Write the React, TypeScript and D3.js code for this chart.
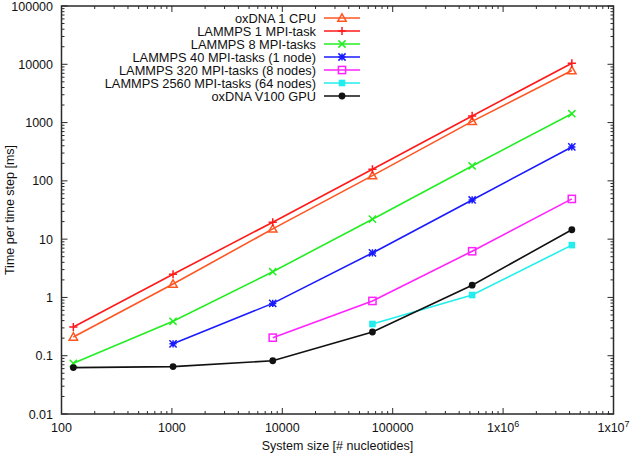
import React from 'react';
import * as d3 from 'd3';

const sizes = [128, 1024, 8192, 65536, 524288, 4194304];
const oxdnaCpu = [0.21, 1.7, 15, 123, 1050, 7800];
const lammps1 = [0.31, 2.5, 19.5, 158, 1300, 10400];
const lammps8 = [0.074, 0.39, 2.76, 22, 180, 1420];
const lammps40 = [null, 0.16, 0.79, 5.8, 47, 382];
const lammps320 = [null, null, 0.204, 0.87, 6.2, 49];
const lammps2560 = [null, null, null, 0.35, 1.1, 7.9];
const oxdnaGpu = [0.0625, 0.065, 0.082, 0.255, 1.62, 14.5];

const seriesNames = [
  'oxDNA 1 CPU',
  'LAMMPS 1 MPI-task',
  'LAMMPS 8 MPI-tasks',
  'LAMMPS 40 MPI-tasks (1 node)',
  'LAMMPS 320 MPI-tasks (8 nodes)',
  'LAMMPS 2560 MPI-tasks (64 nodes)',
  'oxDNA V100 GPU',
];
const seriesValues = [oxdnaCpu, lammps1, lammps8, lammps40, lammps320, lammps2560, oxdnaGpu];
const seriesColors = ['#ff5522', '#ff1a1a', '#22ee22', '#1a1aff', '#ff22ff', '#22eeee', '#111111'];
const seriesMarkers = ['triangle', 'plus', 'cross', 'star', 'squareOpen', 'squareFilled', 'circle'];

const xTicks = [100, 1000, 10000, 100000, 1e6, 1e7];
const xTickLabels = ['100', '1000', '10000', '100000', '1x10|6', '1x10|7'];
const yTicks = [0.01, 0.1, 1, 10, 100, 1000, 10000, 100000];
const yTickLabels = ['0.01', '0.1', '1', '10', '100', '1000', '10000', '100000'];

const W = 634, H = 456;
const left = 61.5, right = 613.5, top = 6, bottom = 414;
const FONT = '"Liberation Sans", Arial, Helvetica, sans-serif';

function Marker({ type, x, y, color }: { type: string; x: number; y: number; color: string }) {
  const s = 3.6;
  switch (type) {
    case 'triangle':
      return <path d={`M${x},${y - s - 0.6}L${x + s + 0.6},${y + s - 0.4}L${x - s - 0.6},${y + s - 0.4}Z`} fill="none" stroke={color} strokeWidth={1.5} />;
    case 'plus':
      return <path d={`M${x - s - 0.5},${y}H${x + s + 0.5}M${x},${y - s - 0.5}V${y + s + 0.5}`} stroke={color} strokeWidth={1.5} />;
    case 'cross':
      return <path d={`M${x - s},${y - s}L${x + s},${y + s}M${x - s},${y + s}L${x + s},${y - s}`} stroke={color} strokeWidth={1.5} />;
    case 'star':
      return <path d={`M${x - s},${y - s}L${x + s},${y + s}M${x - s},${y + s}L${x + s},${y - s}M${x - s},${y}H${x + s}M${x},${y - s}V${y + s}`} stroke={color} strokeWidth={1.5} />;
    case 'squareOpen':
      return <rect x={x - s} y={y - s} width={2 * s} height={2 * s} fill="none" stroke={color} strokeWidth={1.5} />;
    case 'squareFilled':
      return <rect x={x - s + 0.3} y={y - s + 0.3} width={2 * s - 0.6} height={2 * s - 0.6} fill={color} />;
    case 'circle':
      return <circle cx={x} cy={y} r={3.4} fill={color} />;
    default:
      return null;
  }
}

export default function App() {
  const xs = d3.scaleLog().domain([100, 1e7]).range([left, right]);
  const ys = d3.scaleLog().domain([0.01, 100000]).range([bottom, top]);

  const xMinor: number[] = [];
  for (let d = 100; d < 1e7; d *= 10) for (let k = 2; k <= 9; k++) xMinor.push(d * k);
  const yMinor: number[] = [];
  for (let d = 0.01; d < 99999; d *= 10) for (let k = 2; k <= 9; k++) yMinor.push(d * k);

  const line = d3
    .line<[number, number | null]>()
    .defined((d) => d[1] != null)
    .x((d) => xs(d[0]))
    .y((d) => ys(d[1] as number));

  const major = 6, minor = 3;
  const axisColor = '#2a2a2a';

  const legendTextX = 316;
  const legendY0 = 18;
  const legendDy = 13;

  return (
    <svg width={W} height={H} style={{ position: 'absolute', left: 0, top: 0, background: '#fff' }} fontFamily={FONT}>
      <rect x={0} y={0} width={W} height={H} fill="#fff" />
      {/* ticks */}
      <g stroke={axisColor} strokeWidth={1}>
        {xTicks.map((t) => (
          <g key={'xt' + t}>
            <line x1={xs(t)} x2={xs(t)} y1={bottom} y2={bottom - major} />
            <line x1={xs(t)} x2={xs(t)} y1={top} y2={top + major} />
          </g>
        ))}
        {xMinor.map((t) => (
          <g key={'xm' + t}>
            <line x1={xs(t)} x2={xs(t)} y1={bottom} y2={bottom - minor} />
            <line x1={xs(t)} x2={xs(t)} y1={top} y2={top + minor} />
          </g>
        ))}
        {yTicks.map((t) => (
          <g key={'yt' + t}>
            <line x1={left} x2={left + major} y1={ys(t)} y2={ys(t)} />
            <line x1={right} x2={right - major} y1={ys(t)} y2={ys(t)} />
          </g>
        ))}
        {yMinor.map((t) => (
          <g key={'ym' + t}>
            <line x1={left} x2={left + minor} y1={ys(t)} y2={ys(t)} />
            <line x1={right} x2={right - minor} y1={ys(t)} y2={ys(t)} />
          </g>
        ))}
      </g>
      {/* series */}
      {seriesValues.map((vals, i) => {
        const pts = sizes.map((s, j) => [s, vals[j]] as [number, number | null]);
        return (
          <g key={'s' + i}>
            <path d={line(pts) || ''} fill="none" stroke={seriesColors[i]} strokeWidth={1.6} />
            {pts
              .filter((p) => p[1] != null)
              .map((p, j) => (
                <Marker key={j} type={seriesMarkers[i]} x={xs(p[0])} y={ys(p[1] as number)} color={seriesColors[i]} />
              ))}
          </g>
        );
      })}
      {/* frame */}
      <rect x={left} y={top} width={right - left} height={bottom - top} fill="none" stroke={axisColor} strokeWidth={1.5} />
      {/* tick labels */}
      {yTicks.map((t, i) => (
        <text key={'yl' + t} x={53} y={ys(t)} dy="0.36em" textAnchor="end" fontSize={12.5} fill="#111">
          {yTickLabels[i]}
        </text>
      ))}
      {xTicks.map((t, i) => {
        const lab = xTickLabels[i];
        const parts = lab.split('|');
        return (
          <text key={'xl' + t} x={xs(t)} y={432} textAnchor="middle" fontSize={12.5} fill="#111">
            {parts[0]}
            {parts[1] && (
              <tspan fontSize={9} dy={-5}>
                {parts[1]}
              </tspan>
            )}
          </text>
        );
      })}
      {/* axis titles */}
      <text x={(left + right) / 2} y={450} textAnchor="middle" fontSize={12.5} fill="#111">
        System size [# nucleotides]
      </text>
      <text transform={`translate(14,${(top + bottom) / 2}) rotate(-90)`} textAnchor="middle" fontSize={12.5} fill="#111">
        Time per time step [ms]
      </text>
      {/* legend */}
      {seriesNames.map((n, i) => {
        const y = legendY0 + i * legendDy;
        return (
          <g key={'lg' + i}>
            <text x={legendTextX} y={y} dy="0.36em" textAnchor="end" fontSize={12.8} fill="#111">
              {n}
            </text>
            <line x1={324} x2={360} y1={y} y2={y} stroke={seriesColors[i]} strokeWidth={1.6} />
            <Marker type={seriesMarkers[i]} x={342} y={y} color={seriesColors[i]} />
          </g>
        );
      })}
    </svg>
  );
}
